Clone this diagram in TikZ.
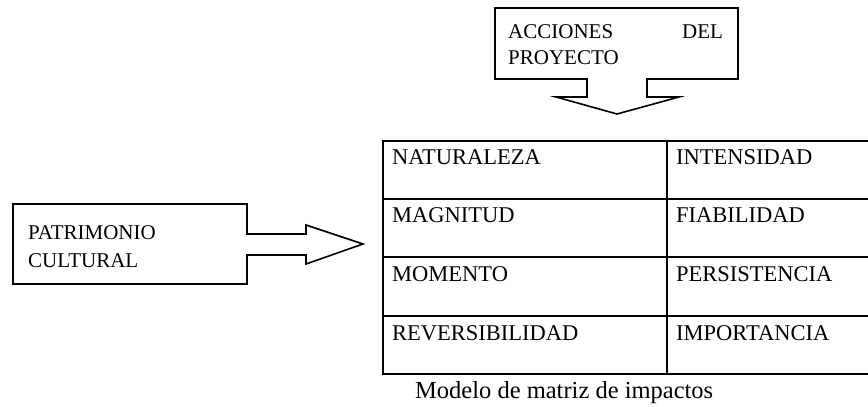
\documentclass[tikz,border=0pt]{standalone}
\usepackage{fontspec}
\setmainfont{Liberation Serif}
\usepackage{tikz}
\tikzstyle{callout} = [line width=1.6pt, line join=miter]
\tikzstyle{grid} = [line width=1.6pt]
\tikzstyle{word} = [anchor=base west, inner sep=0pt, font=\fontsize{21}{25}\selectfont]
\tikzstyle{cell} = [word, font=\fontsize{22.5}{27}\selectfont]

\begin{document}
\begin{tikzpicture}[x=1pt,y=1pt]
		\useasboundingbox (0,0) rectangle (868,407);
		% callout de arriba
		\draw[callout] (495,399) -- (738,399) -- (738,328) -- (647,328) -- (647,310) -- (679,310)
			-- (617,293) -- (556,310) -- (587,310) -- (587,328) -- (495,328) -- cycle;
		\node[word] (acc) at (508,368) {ACCIONES};
		\node[word] (del) at (682,368) {DEL};
		\node[word] (proy) at (508,342) {PROYECTO};
		% callout de la izquierda
		\draw[callout] (13,203) -- (247,203) -- (247,173) -- (306,173) -- (306,182) -- (363,163)
			-- (306,143) -- (306,152) -- (247,152) -- (247,123) -- (13,123) -- cycle;
		\node[word] (pat) at (28,167) {PATRIMONIO};
		\node[word] (cul) at (28,139) {CULTURAL};
		% matriz
		\draw[grid] (383,266) rectangle (874,33);
		\draw[grid] (383,208) -- (874,208);
		\draw[grid] (383,150) -- (874,150);
		\draw[grid] (383,91) -- (874,91);
		\draw[grid] (667,266) -- (667,33);
		\node[cell] (nat) at (392,242) {NATURALEZA};
		\node[cell] (mag) at (392,184) {MAGNITUD};
		\node[cell] (mom) at (392,125) {MOMENTO};
		\node[cell] (rev) at (392,66) {REVERSIBILIDAD};
		\node[cell] (inte) at (676,242) {INTENSIDAD};
		\node[cell] (fia) at (676,184) {FIABILIDAD};
		\node[cell] (per) at (676,125) {PERSISTENCIA};
		\node[cell] (imp) at (676,66) {IMPORTANCIA};
		\node[word, font=\fontsize{24.5}{29}\selectfont] (cap) at (415,8) {Modelo de matriz de impactos};
	\end{tikzpicture}
\end{document}
